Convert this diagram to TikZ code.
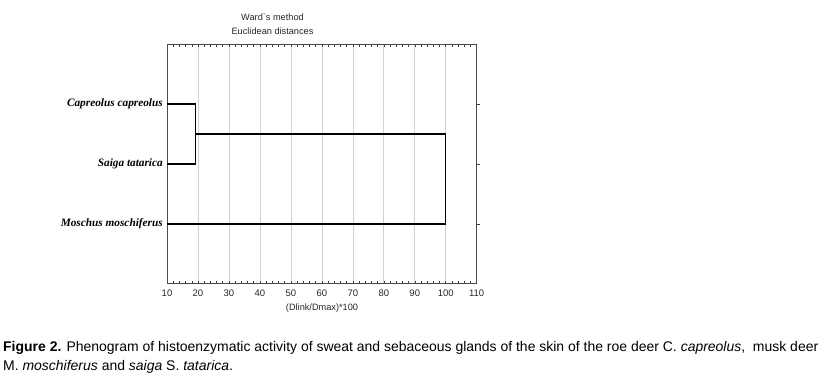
\documentclass[tikz,border=0pt]{standalone}
\usepackage{fontspec}
\setmainfont{Liberation Serif}
\newfontfamily\axisfont{Liberation Sans}
\newfontfamily\capfont{Liberation Sans}
\begin{document}
\begin{tikzpicture}[x=1bp,y=-1bp,
  frame/.style={draw=black!70,line width=0.6bp},
  gridline/.style={draw=black!18,line width=0.6bp},
  tickline/.style={draw=black!75,line width=0.5bp},
  dendro/.style={draw=black,line width=1.2bp},
  ticklabel/.style={font=\axisfont\fontsize{9.5bp}{11bp}\selectfont,text=black!85,inner sep=0pt},
  leaflabel/.style={font=\fontsize{11.3bp}{13bp}\selectfont\bfseries\itshape,anchor=east,inner sep=0pt},
  titletext/.style={font=\axisfont\fontsize{9.2bp}{11bp}\selectfont,text=black!85,inner sep=0pt}]
\useasboundingbox (0,0) rectangle (823,380);
% grid
\foreach \v in {20,30,...,100}{
  \pgfmathsetmacro\xx{167+(\v-10)*3.097}
  \draw[gridline] (\xx,44) -- (\xx,283);
}
% minor ticks top/bottom
\foreach \v in {12,14,...,108}{
  \pgfmathsetmacro\xx{167+(\v-10)*3.097}
  \draw[tickline] (\xx,44) -- (\xx,46.5);
  \draw[tickline] (\xx,283) -- (\xx,280.5);
}
% tick labels
\foreach \v in {10,20,...,110}{
  \pgfmathsetmacro\xx{167+(\v-10)*3.097}
  \node[ticklabel] (t\v) at (\xx,293) {\v};
}
% right ticks
\foreach \yy in {104,164,224}{
  \draw[tickline] (476.7,\yy) -- (479.5,\yy);
}
% frame
\draw[frame] (167,44) rectangle (476.7,283);
% titles
\node[titletext] (title1) at (272.5,17.5) {Ward`s method};
\node[titletext] (title2) at (272.5,31.5) {Euclidean distances};
\node[titletext] (xlabel) at (322,308) {(Dlink/Dmax)*100};
% leaves
\node[leaflabel] (cc) at (163,104) {Capreolus capreolus};
\node[leaflabel] (st) at (163,164) {Saiga tatarica};
\node[leaflabel] (mm) at (163,224) {Moschus moschiferus};
\coordinate (lc) at (167,104);
\coordinate (ls) at (167,164);
\coordinate (lm) at (167,224);
\coordinate (m1) at (195.5,134);
\coordinate (m2) at (445.7,179);
\draw[dendro] (lc) -- (lc -| m1) -- (ls -| m1) -- (ls);
\draw[dendro] (m1) -- (m1 -| m2) -- (lm -| m2) -- (lm);
% caption
\node[anchor=north west,inner sep=0pt] (caption) at (3,339) {\resizebox{815bp}{!}{\capfont\fontsize{13bp}{17bp}\selectfont
\begin{tabular}{@{}l@{}}
\textbf{Figure 2.} Phenogram of histoenzymatic activity of sweat and sebaceous glands of the skin of the roe deer C. \textit{capreolus},\ \ musk deer\\
M. \textit{moschiferus} and \textit{saiga} S. \textit{tatarica}.
\end{tabular}}};
\end{tikzpicture}
\end{document}
